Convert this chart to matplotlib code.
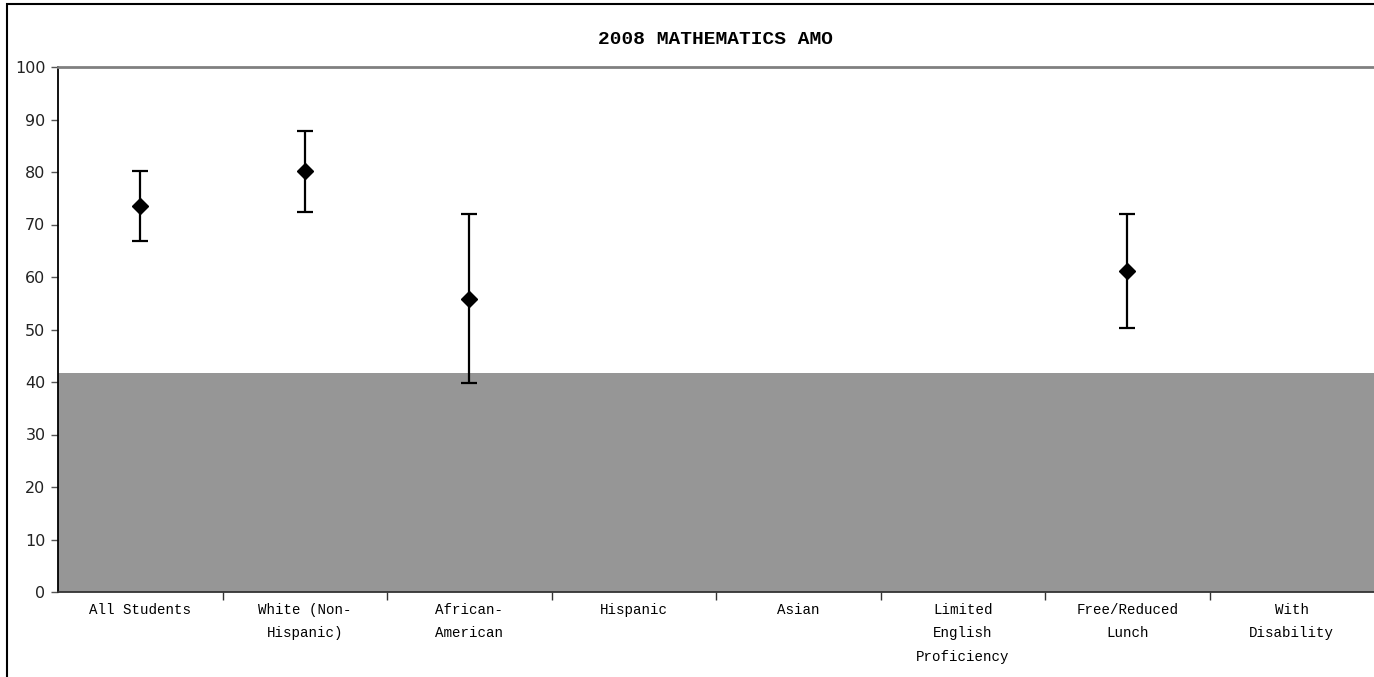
import numpy as np
import matplotlib.pyplot as plt
from matplotlib.patches import Rectangle

groups = ["All Students", "White (Non-\nHispanic)", "African-\nAmerican", "Hispanic",
          "Asian", "Limited\nEnglish\nProficiency", "Free/Reduced\nLunch", "With\nDisability"]
score = [73.5, 80.1, 55.9, np.nan, np.nan, np.nan, 61.1, np.nan]
upper = [80.2, 87.9, 72.0, np.nan, np.nan, np.nan, 72.0, np.nan]
lower = [66.9, 72.3, 39.8, np.nan, np.nan, np.nan, 50.2, np.nan]
amo = 41.7

score = np.array(score)
err = [score - np.array(lower), np.array(upper) - score]

fig = plt.figure(figsize=(13.74, 6.77), dpi=100)
ax = fig.add_axes([58 / 1374, 1 - 592 / 677, 1 - 58 / 1374, (592 - 67) / 677])

x = np.arange(len(groups))
ax.axhspan(0, amo, color="#969696", lw=0, zorder=1)
ax.errorbar(x, score, yerr=err, fmt="D", color="black", ms=8, elinewidth=1.6,
            capsize=5.5, capthick=1.6, zorder=3)

ax.set_xlim(-0.5, len(groups) - 0.5)
ax.set_ylim(0, 100)
ax.set_yticks(range(0, 101, 10))
ax.tick_params(axis="y", length=5, width=1, color="#555555", labelsize=11.5,
               labelcolor="#222222", pad=4)
ax.set_xticks(x[:-1] + 0.5)
ax.set_xticklabels([])
ax.set_xticks(x, minor=True)
ax.set_xticklabels(groups, minor=True, family="Liberation Mono", fontsize=10.2,
                   linespacing=1.85, va="top")
ax.tick_params(axis="x", which="major", length=6, width=1, color="#333333")
ax.tick_params(axis="x", which="minor", length=0, pad=8)

ax.spines["right"].set_visible(False)
ax.spines["top"].set_color("#808080")
ax.spines["top"].set_linewidth(2)
ax.spines["left"].set_linewidth(1.3)
ax.spines["bottom"].set_color("#333333")
ax.spines["bottom"].set_linewidth(1.3)

fig.text(0.5 + 29 / 1374, 1 - 40 / 677, "2008 MATHEMATICS AMO", ha="center", va="center",
         family="Liberation Mono", fontweight="bold", fontsize=14)

fig.patches.append(Rectangle((7 / 1374, -0.05), 1.1, 1.05 - 4 / 677, transform=fig.transFigure,
                             fill=False, lw=1.5, edgecolor="black"))

fig.savefig("out.png", dpi=100)
